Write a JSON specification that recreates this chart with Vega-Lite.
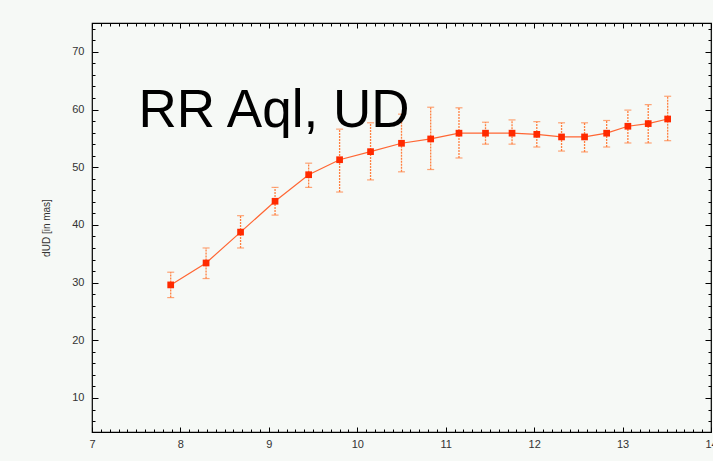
{
  "$schema": "https://vega.github.io/schema/vega-lite/v6.json",
  "autosize": "none",
  "width": 619,
  "height": 409,
  "padding": {"left": 92, "top": 23, "right": 2, "bottom": 29},
  "background": "#f6f9f6",
  "config": {
    "view": {"stroke": "#000000", "strokeWidth": 1.2, "fill": "#f6f9f6"},
    "font": "Liberation Sans",
    "axis": {"labelFont": "Liberation Sans", "labelFontSize": 11, "labelColor": "#333333", "domain": false, "grid": false, "tickColor": "#000000", "tickWidth": 1}
  },
  "data": {
    "values": [
      {"x": 7.89, "y": 29.6, "lo": 27.4, "hi": 31.8},
      {"x": 8.29, "y": 33.4, "lo": 30.7, "hi": 36.0},
      {"x": 8.68, "y": 38.75, "lo": 36.0, "hi": 41.6},
      {"x": 9.07, "y": 44.1, "lo": 41.7, "hi": 46.5},
      {"x": 9.45, "y": 48.7, "lo": 46.5, "hi": 50.7},
      {"x": 9.80, "y": 51.3, "lo": 45.7, "hi": 56.6},
      {"x": 10.15, "y": 52.7, "lo": 47.8, "hi": 57.7},
      {"x": 10.50, "y": 54.15, "lo": 49.2, "hi": 59.2},
      {"x": 10.83, "y": 54.9, "lo": 49.6, "hi": 60.4},
      {"x": 11.15, "y": 55.9, "lo": 51.6, "hi": 60.3},
      {"x": 11.45, "y": 55.9, "lo": 54.0, "hi": 57.8},
      {"x": 11.75, "y": 55.9, "lo": 54.0, "hi": 58.2},
      {"x": 12.03, "y": 55.7, "lo": 53.5, "hi": 57.9},
      {"x": 12.31, "y": 55.25, "lo": 52.8, "hi": 57.7},
      {"x": 12.57, "y": 55.25, "lo": 52.65, "hi": 57.7},
      {"x": 12.82, "y": 55.9, "lo": 53.5, "hi": 58.1},
      {"x": 13.06, "y": 57.1, "lo": 54.2, "hi": 59.9},
      {"x": 13.29, "y": 57.56, "lo": 54.2, "hi": 60.85},
      {"x": 13.51, "y": 58.36, "lo": 54.6, "hi": 62.3}
    ]
  },
  "resolve": {"axis": {"x": "independent", "y": "independent"}},
  "layer": [
    {
      "mark": {"type": "rule", "color": "#ff8040", "strokeWidth": 1.3, "strokeDash": [2, 1]},
      "encoding": {
        "x": {"field": "x", "type": "quantitative", "scale": {"domain": [7, 14], "nice": false, "zero": false},
          "axis": {"orient": "bottom", "title": null, "ticks": false,
            "values": [7,8,9,10,11,12,13,14],
            "labelFlush": false, "labelOverlap": false, "labelBound": false,
            "labelPadding": 6}},
        "y": {"field": "lo", "type": "quantitative", "scale": {"domain": [4.1, 75], "nice": false, "zero": false},
          "axis": {"orient": "left", "title": "dUD [in mas]", "titleFont": "Liberation Sans", "titleFontSize": 10, "titleFontWeight": "normal", "titleColor": "#333333", "titlePadding": 20, "ticks": false,
            "values": [10,20,30,40,50,60,70],
            "labelOverlap": false, "labelBound": false,
            "labelPadding": 8}},
        "y2": {"field": "hi"}
      }
    },
    {
      "mark": {"type": "line", "color": "#ff6633", "strokeWidth": 1.2},
      "encoding": {
        "x": {"field": "x", "type": "quantitative",
          "axis": {"orient": "top", "offset": -409, "title": null, "labels": false,
            "values": [7,7.1,7.2,7.3,7.4,7.5,7.6,7.7,7.8,7.9,8,8.1,8.2,8.3,8.4,8.5,8.6,8.7,8.8,8.9,9,9.1,9.2,9.3,9.4,9.5,9.6,9.7,9.8,9.9,10,10.1,10.2,10.3,10.4,10.5,10.6,10.7,10.8,10.9,11,11.1,11.2,11.3,11.4,11.5,11.6,11.7,11.8,11.9,12,12.1,12.2,12.3,12.4,12.5,12.6,12.7,12.8,12.9,13,13.1,13.2,13.3,13.4,13.5,13.6,13.7,13.8,13.9,14],
            "tickSize": {"condition": {"test": "abs(datum.value - round(datum.value)) < 0.001", "value": 5}, "value": 3}}},
        "y": {"field": "y", "type": "quantitative",
          "axis": {"orient": "right", "offset": -619, "title": null, "labels": false,
            "values": [6,8,10,12,14,16,18,20,22,24,26,28,30,32,34,36,38,40,42,44,46,48,50,52,54,56,58,60,62,64,66,68,70,72,74],
            "tickSize": {"condition": {"test": "datum.value % 10 == 0", "value": 6}, "value": 3}}}
      }
    },
    {
      "mark": {"type": "tick", "orient": "horizontal", "color": "#ff8040", "size": 7, "thickness": 1.2},
      "encoding": {
        "x": {"field": "x", "type": "quantitative",
          "axis": {"orient": "bottom", "offset": -409, "title": null, "labels": false,
            "values": [7,7.1,7.2,7.3,7.4,7.5,7.6,7.7,7.8,7.9,8,8.1,8.2,8.3,8.4,8.5,8.6,8.7,8.8,8.9,9,9.1,9.2,9.3,9.4,9.5,9.6,9.7,9.8,9.9,10,10.1,10.2,10.3,10.4,10.5,10.6,10.7,10.8,10.9,11,11.1,11.2,11.3,11.4,11.5,11.6,11.7,11.8,11.9,12,12.1,12.2,12.3,12.4,12.5,12.6,12.7,12.8,12.9,13,13.1,13.2,13.3,13.4,13.5,13.6,13.7,13.8,13.9,14],
            "tickSize": {"condition": {"test": "abs(datum.value - round(datum.value)) < 0.001", "value": 5}, "value": 3}}},
        "y": {"field": "lo", "type": "quantitative",
          "axis": {"orient": "left", "offset": -619, "title": null, "labels": false,
            "values": [6,8,10,12,14,16,18,20,22,24,26,28,30,32,34,36,38,40,42,44,46,48,50,52,54,56,58,60,62,64,66,68,70,72,74],
            "tickSize": {"condition": {"test": "datum.value % 10 == 0", "value": 6}, "value": 3}}}
      }
    },
    {
      "mark": {"type": "tick", "orient": "horizontal", "color": "#ff8040", "size": 7, "thickness": 1.2},
      "encoding": {
        "x": {"field": "x", "type": "quantitative", "axis": null},
        "y": {"field": "hi", "type": "quantitative", "axis": null}
      }
    },
    {
      "mark": {"type": "point", "shape": "square", "filled": true, "color": "#ff2a00", "opacity": 1, "size": 45},
      "encoding": {
        "x": {"field": "x", "type": "quantitative", "axis": null},
        "y": {"field": "y", "type": "quantitative", "axis": null}
      }
    },
    {
      "data": {"values": [{"label": "RR Aql, UD", "x": 7.526, "y": 57.0}]},
      "mark": {"type": "text", "font": "Liberation Sans", "fontSize": 53, "align": "left", "baseline": "alphabetic", "color": "#000000"},
      "encoding": {
        "x": {"field": "x", "type": "quantitative", "axis": null},
        "y": {"field": "y", "type": "quantitative", "axis": null},
        "text": {"field": "label"}
      }
    }
  ]
}
